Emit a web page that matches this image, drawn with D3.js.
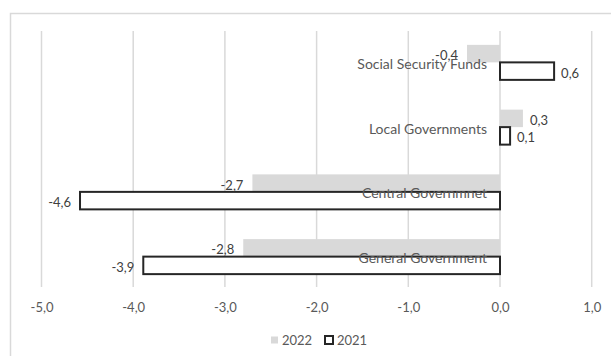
<!DOCTYPE html>
<html>
<head>
<meta charset="utf-8">
<script src="https://cdn.jsdelivr.net/npm/d3@7"></script>
<style>
  html, body { margin: 0; padding: 0; background: #fff; }
  svg { display: block; font-family: Lato, "Open Sans", sans-serif; }
</style>
</head>
<body>
<svg id="chart" width="611" height="356"></svg>
<script>
// Budget balance by subsector, % of GDP
const categories = ["Social Security Funds", "Local Governments", "Central Governmnet", "General Government"];
const seriesNames = ["2022", "2021"];
const values2022 = [-0.36, 0.25, -2.7, -2.8];
const values2021 = [0.59, 0.11, -4.58, -3.89];
const tickValues = [-5, -4, -3, -2, -1, 0, 1];

const locale = d3.formatLocale({ decimal: ",", thousands: ".", grouping: [3], currency: ["", "€"], minus: "-" });
const fmt = locale.format(".1f");

const svg = d3.select("#chart");
const W = 611, H = 356;

// outer chart frame
svg.append("rect")
  .attr("x", 10.5).attr("y", 13.5)
  .attr("width", W + 20).attr("height", H + 20)
  .attr("fill", "#fff").attr("stroke", "#d9d9d9").attr("stroke-width", 1.5);

const plot = { left: 41.5, right: 591.7, top: 30, bottom: 289 };

const x = d3.scaleLinear().domain([-5, 1]).range([plot.left, plot.right]);
const y = d3.scaleBand().domain(categories).range([plot.top, plot.bottom]).paddingInner(0).paddingOuter(0);
const inner = d3.scaleBand().domain(seriesNames).range([0, y.bandwidth()]).paddingInner(0).paddingOuter(0.85);

const rows = categories.map((c, i) => ({ cat: c, values: [
  { key: "2022", v: values2022[i] },
  { key: "2021", v: values2021[i] }
]}));

// vertical gridlines
svg.append("g").selectAll("line").data(tickValues).join("line")
  .attr("x1", d => x(d)).attr("x2", d => x(d))
  .attr("y1", 31).attr("y2", 287)
  .attr("stroke", "#d9d9d9").attr("stroke-width", 1.5);

// tick labels
const xAxis = d3.axisBottom(x).tickValues(tickValues).tickFormat(fmt).tickSize(0).tickPadding(0);
const ax = svg.append("g").attr("transform", `translate(0,${307})`).call(xAxis);
ax.select(".domain").remove();
ax.selectAll("text")
  .attr("dy", "0.35em").attr("y", 0)
  .attr("fill", "#595959").style("font-size", "13px").style("font-family", "Lato, sans-serif");

// bars
const groups = svg.append("g").selectAll("g").data(rows).join("g")
  .attr("transform", d => `translate(0,${y(d.cat)})`);

groups.selectAll("rect").data(d => d.values).join("rect")
  .attr("x", d => x(Math.min(0, d.v)))
  .attr("width", d => Math.abs(x(d.v) - x(0)))
  .attr("y", d => inner(d.key))
  .attr("height", inner.bandwidth())
  .attr("fill", d => d.key === "2022" ? "#d9d9d9" : "#ffffff")
  .attr("stroke", d => d.key === "2022" ? "none" : "#262626")
  .attr("stroke-width", 2);

// category labels beside the zero line
svg.append("g").selectAll("text").data(categories).join("text")
  .attr("x", x(0) - 13)
  .attr("y", d => y(d) + y.bandwidth() / 2 + 1)
  .attr("text-anchor", "end")
  .attr("dominant-baseline", "central")
  .attr("fill", "#595959")
  .style("font-size", "14px")
  .text(d => d);

// value labels
groups.selectAll("text.val").data(d => d.values).join("text")
  .attr("class", "val")
  .attr("x", d => d.v < 0 ? x(d.v) - 9 : x(d.v) + 7)
  .attr("y", d => inner(d.key) + inner.bandwidth() / 2 + 1.5)
  .attr("text-anchor", d => d.v < 0 ? "end" : "start")
  .attr("dominant-baseline", "central")
  .attr("fill", "#404040")
  .style("font-size", "13px")
  .text(d => fmt(d.v));

// legend
const legend = svg.append("g").attr("transform", "translate(0,340)");
legend.append("rect").attr("x", 271).attr("y", -3.5).attr("width", 7).attr("height", 7).attr("fill", "#d9d9d9");
legend.append("text").attr("x", 282).attr("y", 0).attr("dominant-baseline", "central")
  .attr("fill", "#595959").style("font-size", "13px").text(seriesNames[0]);
legend.append("rect").attr("x", 325).attr("y", -4).attr("width", 8).attr("height", 8)
  .attr("fill", "#fff").attr("stroke", "#262626").attr("stroke-width", 2);
legend.append("text").attr("x", 337).attr("y", 0).attr("dominant-baseline", "central")
  .attr("fill", "#595959").style("font-size", "13px").text(seriesNames[1]);
</script>
</body>
</html>
